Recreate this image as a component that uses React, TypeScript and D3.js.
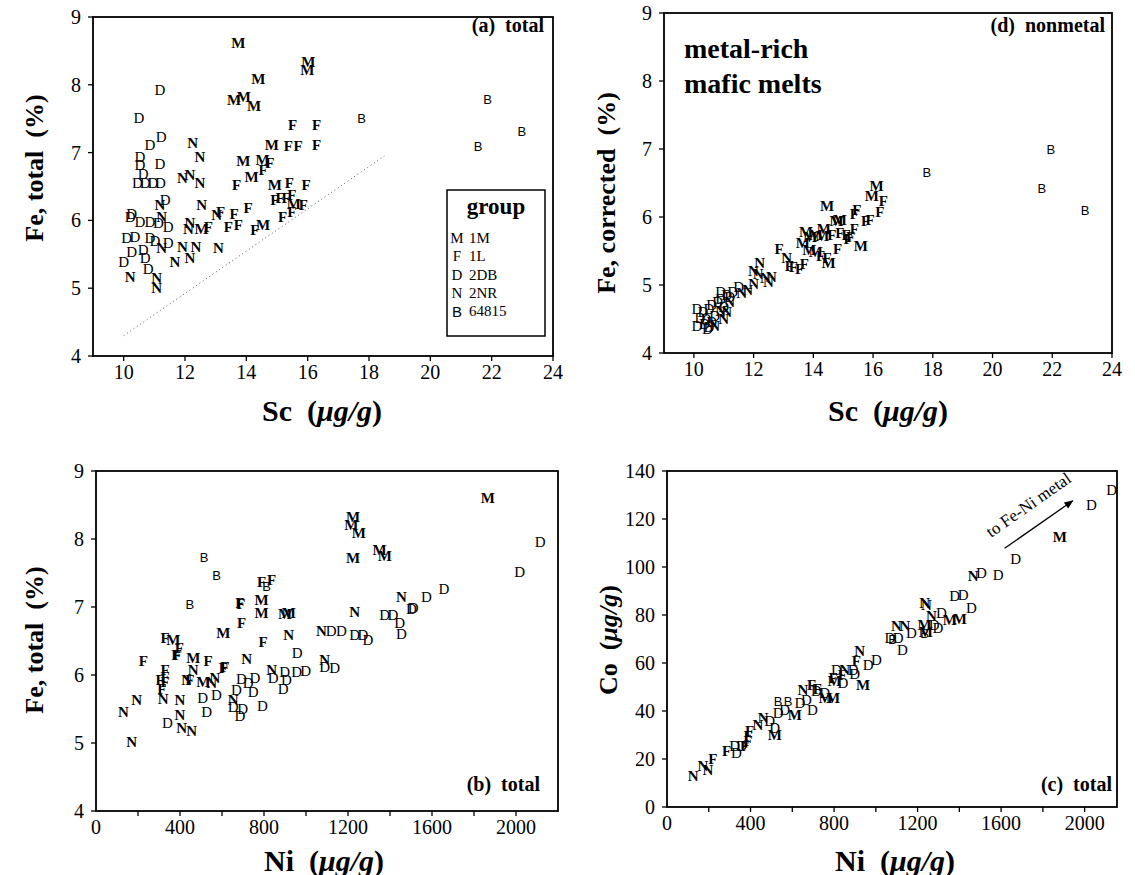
import React from 'react';
import * as d3 from 'd3';

// group letters and names (legend of panel a)
const groupKeys = ['M', 'F', 'D', 'N', 'B'];
const groupNames = ['1M', '1L', '2DB', '2NR', '64815'];

// (a) Sc vs Fe total
const aM = [[13.74,8.61],[16.02,8.34],[15.99,8.22],[14.39,8.08],[13.6,7.77],[13.92,7.82],[14.25,7.69],[14.83,7.11],[13.9,6.88],[14.53,6.89],[14.17,6.64],[14.93,6.52],[15.55,6.24],[12.54,5.88],[14.55,5.93]];
const aF = [[15.51,7.4],[16.29,7.4],[15.37,7.09],[15.69,7.09],[16.29,7.11],[14.77,6.85],[14.55,6.75],[13.68,6.52],[15.4,6.55],[15.95,6.52],[13.16,6.13],[13.6,6.1],[14.06,6.18],[14.93,6.3],[15.1,6.33],[15.3,6.33],[15.48,6.37],[15.86,6.23],[15.18,6.05],[15.48,6.13],[12.76,5.91],[13.41,5.91],[13.74,5.93],[14.28,5.86]];
const aD = [[11.18,7.92],[10.5,7.51],[10.86,7.11],[11.22,7.23],[10.53,6.94],[10.53,6.82],[11.18,6.83],[10.64,6.69],[10.45,6.55],[10.7,6.55],[10.95,6.55],[11.2,6.55],[11.35,6.3],[10.26,6.1],[10.21,6.05],[10.53,5.98],[10.86,5.98],[11.13,5.96],[11.45,5.91],[10.1,5.74],[10.37,5.76],[10.86,5.74],[11.02,5.69],[11.45,5.66],[10.26,5.54],[10.64,5.56],[10.7,5.44],[10.0,5.39],[10.8,5.29]];
const aN = [[12.25,7.14],[12.49,6.93],[11.92,6.63],[12.16,6.67],[12.49,6.55],[11.18,6.23],[12.54,6.23],[13.03,6.08],[11.24,6.05],[12.11,5.88],[12.16,5.96],[11.24,5.59],[11.92,5.61],[12.36,5.61],[13.09,5.59],[11.67,5.39],[12.16,5.44],[10.21,5.17],[11.08,5.15],[11.08,5.0]];
const aB = [[17.76,7.51],[21.87,7.78],[22.98,7.31],[21.56,7.09]];
const aLine = [[10, 4.3], [18.5, 6.95]];

// (d) Sc vs Fe corrected (nonmetal)
const dM = [[16.12,6.46],[15.96,6.31],[14.46,6.16],[14.89,5.96],[14.78,5.94],[13.76,5.78],[14.08,5.74],[14.35,5.82],[15.59,5.58],[13.65,5.62],[13.87,5.52],[14.08,5.49],[14.51,5.32],[14.3,5.72],[13.9,5.7]];
const dF = [[16.34,6.23],[16.23,6.08],[15.46,6.11],[15.37,6.05],[15.75,5.94],[14.62,5.74],[14.89,5.77],[15.1,5.74],[15.37,5.82],[15.16,5.67],[14.81,5.53],[14.24,5.43],[14.46,5.4],[12.85,5.53],[13.33,5.26],[13.54,5.23],[13.7,5.31],[15.9,5.95],[15.25,5.7],[13.2,5.28]];
const dD = [[11.5,4.97],[11.3,4.9],[11.1,4.85],[10.9,4.8],[10.1,4.65],[10.1,4.4],[10.3,4.6],[10.4,4.5],[10.5,4.38],[10.6,4.7],[10.8,4.75],[10.5,4.65],[10.35,4.42],[10.6,4.45],[10.2,4.52],[10.7,4.55],[11.0,4.68],[11.2,4.82],[10.45,4.35],[10.9,4.9]];
const dN = [[13.11,5.39],[12.2,5.33],[11.99,5.21],[12.15,5.16],[12.4,5.1],[12.6,5.12],[12.5,5.05],[12.0,5.02],[11.8,4.92],[11.6,4.88],[11.2,4.75],[11.1,4.6],[11.0,4.5],[10.9,4.62],[10.7,4.4]];
const dB = [[17.8,6.65],[21.95,7.0],[21.65,6.42],[23.1,6.1]];

// (b) Ni vs Fe total
const bM = [[1866,8.6],[1224,8.33],[1216,8.21],[1252,8.09],[1224,7.72],[1351,7.84],[1375,7.75],[788,7.1],[788,6.91],[918,6.91],[606,6.62],[368,6.51],[463,6.25],[511,5.9],[900,6.9]];
const bF = [[788,7.37],[836,7.4],[685,7.06],[693,6.76],[796,6.49],[329,6.54],[397,6.39],[387,6.29],[225,6.21],[534,6.2],[614,6.12],[606,6.1],[329,6.07],[329,5.97],[305,5.93],[329,5.9],[313,5.8],[447,5.93],[690,7.04],[380,6.3]];
const bD = [[2115,7.96],[2017,7.52],[1657,7.26],[1573,7.15],[1502,6.97],[1510,6.99],[1375,6.88],[1414,6.88],[1446,6.76],[1454,6.61],[1120,6.64],[1169,6.64],[1232,6.59],[1271,6.59],[1295,6.51],[958,6.32],[1089,6.12],[1137,6.11],[574,5.71],[693,5.94],[725,5.88],[757,5.95],[669,5.78],[748,5.75],[844,5.95],[899,6.05],[907,5.93],[955,6.05],[999,6.06],[891,5.8],[508,5.66],[527,5.46],[653,5.53],[698,5.5],[685,5.39],[793,5.54],[340,5.3]];
const bN = [[1454,7.15],[1232,6.93],[1074,6.64],[918,6.59],[717,6.23],[1089,6.22],[463,6.07],[432,5.92],[551,5.88],[566,5.95],[836,6.07],[194,5.63],[130,5.45],[320,5.64],[400,5.63],[653,5.63],[400,5.41],[408,5.22],[456,5.18],[170,5.02]];
const bB = [[515,7.73],[574,7.47],[447,7.03],[812,7.3]];

// (c) Ni vs Co
const cM = [[1881,112.5],[1354,78.0],[1402,78.3],[1234,76],[939,51],[803,52.3],[795,45.4],[760,45.5],[612,38.5],[516,30.1],[1240,73]];
const cF = [[907,60.7],[795,53.8],[692,51],[396,31.5],[388,29.4],[285,23.2],[372,25.3],[388,27.4],[220,20],[840,55],[720,49]];
const cD = [[2129,132.2],[2033,126],[1670,103.3],[1586,96.8],[1506,97.5],[1378,87.8],[1418,88.5],[1458,82.9],[1314,80.8],[1298,74.6],[1171,72.5],[1067,70.4],[1107,70.4],[1128,65.5],[963,59.3],[1003,61.1],[811,57.2],[891,57.2],[899,55.5],[843,51.7],[716,48.2],[755,47.5],[636,43.3],[668,44.7],[697,40.5],[564,40.5],[532,39.2],[492,35.7],[516,32.9],[324,25.3],[356,25.3],[332,22.5],[1280,76]];
const cN = [[1466,96.1],[1234,85],[1266,79.4],[1099,75.3],[1139,75.3],[923,64.8],[851,57.2],[651,48.9],[436,34.3],[460,37.1],[172,16.9],[196,15.3],[125,13],[1242,84.3]];
const cB = [[532,44],[580,44],[1234,72.5],[1080,70]];
const cArrow = [[1617, 107.8], [1943, 127.6]];

const scTicks = [10, 12, 14, 16, 18, 20, 22, 24];
const feTicks = [4, 5, 6, 7, 8, 9];
const niTicks = [200, 400, 600, 800, 1000, 1200, 1400, 1600, 1800, 2000];
const niLabels = [0, 400, 800, 1200, 1600, 2000];
const coTicks = [0, 20, 40, 60, 80, 100, 120, 140];

const serif = '"Liberation Serif", "Times New Roman", serif';
const sans = '"Liberation Sans", Arial, sans-serif';

function Marker({ k, x, y }) {
  const isB = k === 'B';
  return (
    <text x={x} y={y} textAnchor="middle" dominantBaseline="central"
      fontFamily={isB ? sans : serif}
      fontWeight={k === 'D' || isB ? 'normal' : 'bold'}
      fontSize={isB ? 13 : 15}>{k}</text>
  );
}

function Panel({ box, xDomain, yDomain, xTicks, xLabels, yTicks, yLabels, series, children }) {
  const x = d3.scaleLinear().domain(xDomain).range([box[0], box[1]]);
  const y = d3.scaleLinear().domain(yDomain).range([box[3], box[2]]);
  return (
    <g>
      <rect x={box[0]} y={box[2]} width={box[1] - box[0]} height={box[3] - box[2]}
        fill="none" stroke="#000" strokeWidth={1.8} />
      {xTicks.map(t => (
        <line key={'xt' + t} x1={x(t)} x2={x(t)} y1={box[3]} y2={box[3] + 5} stroke="#000" strokeWidth={1.3} />
      ))}
      {xLabels.map(t => (
        <text key={'xl' + t} x={x(t)} y={box[3] + 23} textAnchor="middle" fontFamily={serif} fontSize={20}>{t}</text>
      ))}
      {yTicks.map(t => (
        <line key={'yt' + t} x1={box[0] - 5} x2={box[0]} y1={y(t)} y2={y(t)} stroke="#000" strokeWidth={1.3} />
      ))}
      {yLabels.map(t => (
        <text key={'yl' + t} x={box[0] - 12} y={y(t)} textAnchor="end" dominantBaseline="central" fontFamily={serif} fontSize={20}>{t}</text>
      ))}
      {series.map(([k, pts]) => pts.map((p, i) => (
        <Marker key={k + i} k={k} x={x(p[0])} y={y(p[1])} />
      )))}
      {children && children(x, y)}
    </g>
  );
}

function AxisTitle({ x, y, rotate, name }) {
  return (
    <text x={x} y={y} transform={rotate ? `rotate(-90 ${x} ${y})` : undefined}
      textAnchor="middle" dominantBaseline="central" fontFamily={serif}
      fontWeight="bold" fontSize={rotate ? 26 : 30} style={{ whiteSpace: 'pre' }}>
      {name.main}<tspan>{'  ('}</tspan>
      {name.unit ? <tspan fontStyle="italic">{name.unit}</tspan> : null}
      {name.pct ? <tspan>%</tspan> : null}
      <tspan>)</tspan>
    </text>
  );
}

export default function App() {
  const boxA = [93, 553, 17, 356];
  const boxD = [664, 1112, 13, 353];
  const boxB = [96, 558, 471, 811];
  const boxC = [667, 1117, 471, 807];
  const lbl = { fontFamily: serif, fontWeight: 'bold', fontSize: 20, style: { whiteSpace: 'pre' } };

  return (
    <div style={{ position: 'absolute', left: 0, top: 0 }}>
      <svg width={1135} height={875} style={{ display: 'block', background: '#fff' }}>
        <Panel box={boxA} xDomain={[9, 24]} yDomain={[4, 9]} xTicks={scTicks} xLabels={scTicks}
          yTicks={feTicks} yLabels={feTicks}
          series={[['M', aM], ['F', aF], ['D', aD], ['N', aN], ['B', aB]]}>
          {(x, y) => (
            <g>
              <line x1={x(aLine[0][0])} y1={y(aLine[0][1])} x2={x(aLine[1][0])} y2={y(aLine[1][1])}
                stroke="#555" strokeWidth={1} strokeDasharray="1 3" />
              <text x={544} y={32} textAnchor="end" {...lbl}>(a)  total</text>
              <rect x={447} y={190} width={98} height={146} fill="#fff" stroke="#000" strokeWidth={1.5} />
              <text x={496} y={214} textAnchor="middle" fontFamily={serif} fontWeight="bold" fontSize={23}>group</text>
              {groupKeys.map((k, i) => (
                <g key={k}>
                  <text x={457} y={238 + i * 18.3} textAnchor="middle" dominantBaseline="central"
                    fontFamily={k === 'B' ? sans : serif} fontSize={15}>{k}</text>
                  <text x={469} y={238 + i * 18.3} dominantBaseline="central" fontFamily={serif} fontSize={15}>{groupNames[i]}</text>
                </g>
              ))}
            </g>
          )}
        </Panel>

        <Panel box={boxD} xDomain={[9, 24]} yDomain={[4, 9]} xTicks={scTicks} xLabels={scTicks}
          yTicks={feTicks} yLabels={feTicks}
          series={[['D', dD], ['N', dN], ['F', dF], ['M', dM], ['B', dB]]}>
          {() => (
            <g>
              <text x={1105} y={32} textAnchor="end" {...lbl}>(d)  nonmetal</text>
              <text x={684} y={58} fontFamily={serif} fontWeight="bold" fontSize={28}>metal-rich</text>
              <text x={684} y={93} fontFamily={serif} fontWeight="bold" fontSize={28}>mafic melts</text>
            </g>
          )}
        </Panel>

        <Panel box={boxB} xDomain={[0, 2200]} yDomain={[4, 9]} xTicks={niTicks} xLabels={niLabels}
          yTicks={feTicks} yLabels={feTicks}
          series={[['M', bM], ['F', bF], ['D', bD], ['N', bN], ['B', bB]]}>
          {() => <text x={540} y={791} textAnchor="end" {...lbl}>(b)  total</text>}
        </Panel>

        <Panel box={boxC} xDomain={[0, 2155]} yDomain={[0, 140]} xTicks={niTicks} xLabels={niLabels}
          yTicks={coTicks} yLabels={coTicks}
          series={[['M', cM], ['F', cF], ['D', cD], ['N', cN], ['B', cB]]}>
          {(x, y) => {
            const x1 = x(cArrow[0][0]), y1 = y(cArrow[0][1]);
            const x2 = x(cArrow[1][0]), y2 = y(cArrow[1][1]);
            const ang = Math.atan2(y2 - y1, x2 - x1) * 180 / Math.PI;
            const mx = (x1 + x2) / 2 - 7, my = (y1 + y2) / 2 - 15;
            return (
              <g>
                <defs>
                  <marker id="ah" viewBox="0 0 10 10" refX="9" refY="5" markerWidth="9" markerHeight="7" orient="auto">
                    <path d="M0,1 L10,5 L0,9 z" fill="#000" />
                  </marker>
                </defs>
                <line x1={x1} y1={y1} x2={x2} y2={y2} stroke="#000" strokeWidth={1.3} markerEnd="url(#ah)" />
                <text x={mx} y={my} transform={`rotate(${ang} ${mx} ${my})`} textAnchor="middle"
                  fontFamily={serif} fontSize={17}>to Fe-Ni metal</text>
                <text x={1112} y={791} textAnchor="end" {...lbl}>(c)  total</text>
              </g>
            );
          }}
        </Panel>

        <AxisTitle x={34} y={168} rotate name={{ main: 'Fe, total', pct: true }} />
        <AxisTitle x={606} y={193} rotate name={{ main: 'Fe, corrected', pct: true }} />
        <AxisTitle x={34} y={640} rotate name={{ main: 'Fe, total', pct: true }} />
        <AxisTitle x={608} y={640} rotate name={{ main: 'Co', unit: 'μg/g' }} />
        <AxisTitle x={322} y={410} name={{ main: 'Sc', unit: 'μg/g' }} />
        <AxisTitle x={888} y={410} name={{ main: 'Sc', unit: 'μg/g' }} />
        <AxisTitle x={324} y={860} name={{ main: 'Ni', unit: 'μg/g' }} />
        <AxisTitle x={895} y={860} name={{ main: 'Ni', unit: 'μg/g' }} />
      </svg>
    </div>
  );
}
